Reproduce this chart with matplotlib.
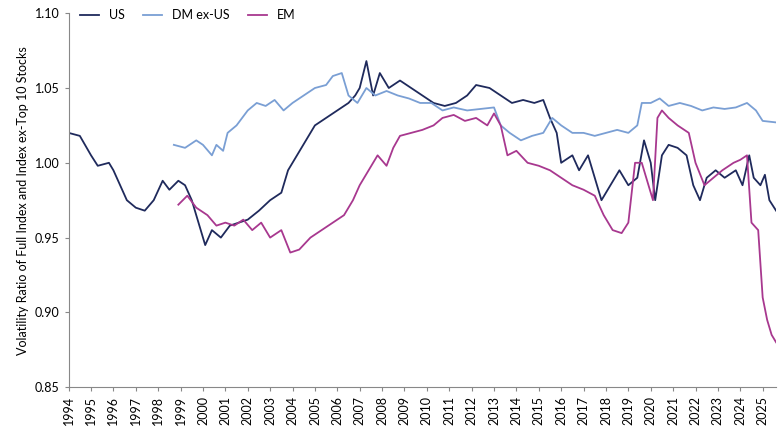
import matplotlib
matplotlib.use("Agg")
import matplotlib.pyplot as plt

us_t = [1994.0, 1994.5, 1995.0, 1995.3, 1995.8, 1996.0, 1996.3, 1996.6, 1997.0, 1997.4, 1997.8, 1998.2,
        1998.5, 1998.9, 1999.2, 1999.5, 1999.8, 2000.1, 2000.4, 2000.8, 2001.2, 2001.6, 2002.0, 2002.5,
        2003.0, 2003.5, 2003.8, 2004.2, 2004.6, 2005.0, 2005.5, 2006.0, 2006.5, 2006.8, 2007.0, 2007.3,
        2007.6, 2007.9, 2008.3, 2008.8, 2009.3, 2009.8, 2010.3, 2010.8, 2011.3, 2011.8, 2012.2, 2012.8,
        2013.3, 2013.8, 2014.3, 2014.8, 2015.2, 2015.5, 2015.8, 2016.0, 2016.5, 2016.8, 2017.2, 2017.5,
        2017.8, 2018.2, 2018.6, 2019.0, 2019.4, 2019.7, 2020.0, 2020.2, 2020.5, 2020.8, 2021.2, 2021.6,
        2021.9, 2022.2, 2022.5, 2022.9, 2023.3, 2023.8, 2024.1, 2024.4, 2024.6, 2024.9, 2025.1, 2025.3, 2025.6]
us_v = [1.020, 1.018, 1.005, 0.998, 1.000, 0.995, 0.985, 0.975, 0.970, 0.968, 0.975, 0.988,
        0.982, 0.988, 0.985, 0.975, 0.960, 0.945, 0.955, 0.950, 0.958, 0.960, 0.962, 0.968,
        0.975, 0.980, 0.995, 1.005, 1.015, 1.025, 1.030, 1.035, 1.040, 1.045, 1.050, 1.068,
        1.045, 1.060, 1.050, 1.055, 1.050, 1.045, 1.040, 1.038, 1.040, 1.045, 1.052, 1.050,
        1.045, 1.040, 1.042, 1.040, 1.042, 1.030, 1.020, 1.000, 1.005, 0.995, 1.005, 0.990,
        0.975, 0.985, 0.995, 0.985, 0.990, 1.015, 1.000, 0.975, 1.005, 1.012, 1.010, 1.005,
        0.985, 0.975, 0.990, 0.995, 0.990, 0.995, 0.985, 1.005, 0.990, 0.985, 0.992, 0.975, 0.968]

dm_t = [1998.7, 1999.2, 1999.7, 2000.0, 2000.4, 2000.6, 2000.9, 2001.1, 2001.5, 2002.0, 2002.4, 2002.8,
        2003.2, 2003.6, 2004.0, 2004.5, 2005.0, 2005.5, 2005.8, 2006.2, 2006.5, 2006.9, 2007.3, 2007.7,
        2008.2, 2008.7, 2009.2, 2009.7, 2010.2, 2010.7, 2011.2, 2011.8, 2012.4, 2013.0, 2013.3, 2013.7,
        2014.2, 2014.7, 2015.2, 2015.6, 2016.0, 2016.5, 2017.0, 2017.5, 2018.0, 2018.5, 2019.0, 2019.4,
        2019.6, 2020.0, 2020.4, 2020.8, 2021.3, 2021.8, 2022.3, 2022.8, 2023.3, 2023.8, 2024.3, 2024.7,
        2025.0, 2025.6]
dm_v = [1.012, 1.010, 1.015, 1.012, 1.005, 1.012, 1.008, 1.020, 1.025, 1.035, 1.040, 1.038,
        1.042, 1.035, 1.040, 1.045, 1.050, 1.052, 1.058, 1.060, 1.045, 1.040, 1.050, 1.045,
        1.048, 1.045, 1.043, 1.040, 1.040, 1.035, 1.037, 1.035, 1.036, 1.037, 1.025, 1.020,
        1.015, 1.018, 1.020, 1.030, 1.025, 1.020, 1.020, 1.018, 1.020, 1.022, 1.020, 1.025,
        1.040, 1.040, 1.043, 1.038, 1.040, 1.038, 1.035, 1.037, 1.036, 1.037, 1.040, 1.035,
        1.028, 1.027]

em_t = [1998.9, 1999.3, 1999.7, 2000.2, 2000.6, 2001.0, 2001.4, 2001.8, 2002.2, 2002.6, 2003.0, 2003.5,
        2003.9, 2004.3, 2004.8, 2005.3, 2005.8, 2006.3, 2006.7, 2007.0, 2007.4, 2007.8, 2008.2, 2008.5,
        2008.8, 2009.3, 2009.8, 2010.3, 2010.7, 2011.2, 2011.7, 2012.2, 2012.7, 2013.0, 2013.3, 2013.6,
        2014.0, 2014.5, 2015.0, 2015.5, 2016.0, 2016.5, 2017.0, 2017.5, 2017.9, 2018.3, 2018.7, 2019.0,
        2019.3, 2019.6, 2019.9, 2020.1, 2020.3, 2020.5, 2020.8, 2021.2, 2021.7, 2022.0, 2022.4, 2022.8,
        2023.2, 2023.7, 2024.0, 2024.3, 2024.5, 2024.8, 2025.0, 2025.2, 2025.4, 2025.6]
em_v = [0.972, 0.978, 0.970, 0.965, 0.958, 0.960, 0.958, 0.962, 0.955, 0.960, 0.950, 0.955,
        0.940, 0.942, 0.950, 0.955, 0.960, 0.965, 0.975, 0.985, 0.995, 1.005, 0.998, 1.010,
        1.018, 1.020, 1.022, 1.025, 1.030, 1.032, 1.028, 1.030, 1.025, 1.033, 1.025, 1.005,
        1.008, 1.000, 0.998, 0.995, 0.990, 0.985, 0.982, 0.978, 0.965, 0.955, 0.953, 0.960,
        1.000, 1.000, 0.985, 0.975, 1.030, 1.035, 1.030, 1.025, 1.020, 1.000, 0.985, 0.990,
        0.995, 1.000, 1.002, 1.005, 0.960, 0.955, 0.910, 0.895, 0.885, 0.880]

years = list(range(1994, 2026))

plt.rcParams["font.family"] = ["Lato", "DejaVu Sans"]
fig, ax = plt.subplots(figsize=(7.8, 4.4), dpi=100)
ax.plot(us_t, us_v, color="#1f2a5c", lw=1.3, label="US")
ax.plot(dm_t, dm_v, color="#7a9fd4", lw=1.3, label="DM ex-US")
ax.plot(em_t, em_v, color="#a8388f", lw=1.3, label="EM")

ax.set_xlim(1994, 2025.6)
ax.set_ylim(0.85, 1.10)
ax.set_xticks(years)
ax.set_xticklabels([str(y) for y in years], rotation=90, fontsize=9)
ax.set_yticks([0.85, 0.90, 0.95, 1.00, 1.05, 1.10])
ax.set_yticklabels([f"{v:.2f}" for v in ax.get_yticks()], fontsize=9)
ax.tick_params(length=3, color="#888888")
for s in ["top", "right"]:
    ax.spines[s].set_visible(False)
for s in ["left", "bottom"]:
    ax.spines[s].set_color("#888888")
ax.set_ylabel("Volatility Ratio of Full Index and Index ex-Top 10 Stocks", fontsize=9)
ax.legend(loc="upper left", ncol=3, frameon=False, fontsize=9,
          bbox_to_anchor=(0.0, 1.04), handlelength=1.5, columnspacing=1.5)

plt.subplots_adjust(left=0.088, right=0.995, top=0.97, bottom=0.12)
fig.savefig("out.png", dpi=100)
